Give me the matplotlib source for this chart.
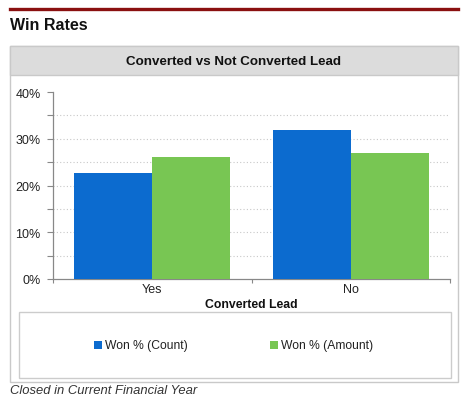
import matplotlib
matplotlib.use("Agg")
import matplotlib.pyplot as plt
from matplotlib.patches import Rectangle
from matplotlib.lines import Line2D
from matplotlib.ticker import FixedLocator, FuncFormatter
import numpy as np

plt.rcParams['font.family'] = ['Liberation Sans', 'DejaVu Sans']

categories = ["Yes", "No"]
won_count = [22.6, 31.8]
won_amount = [26.2, 27.0]
series_names = ["Won % (Count)", "Won % (Amount)"]
colors = ["#0c6bcf", "#78c653"]
major_yticks = [0, 10, 20, 30, 40]
minor_yticks = [5, 15, 25, 35]

W, H = 468, 402
fig = plt.figure(figsize=(W / 100, H / 100), dpi=100)

def fx(x):
    return x / W

def fy(y):
    return 1 - y / H

# Top red rule
fig.add_artist(Line2D([fx(10), fx(458)], [fy(10), fy(10)], color="#8a1010", lw=2.4))
fig.text(fx(10), fy(25), "Win Rates", fontsize=11.5, fontweight="bold", ha="left", va="center", color="#111111")

# Panel
fig.add_artist(Rectangle((fx(10), fy(383)), fx(448), (383 - 47) / H, transform=fig.transFigure,
                         facecolor="white", edgecolor="#c9c9c9", lw=1.0, zorder=-2))
fig.add_artist(Rectangle((fx(10), fy(76)), fx(448), (76 - 47) / H, transform=fig.transFigure,
                         facecolor="#dcdcdc", edgecolor="#c9c9c9", lw=1.0, zorder=-1))
fig.text(fx(234), fy(62), "Converted vs Not Converted Lead", fontsize=9.6, fontweight="bold",
         ha="center", va="center", color="#111111")

# Axes
ax = fig.add_axes([fx(53), fy(280), (450 - 53) / W, (280 - 93) / H])
ax.set_zorder(2)
ax.patch.set_alpha(0)
x = np.arange(len(categories))
bw = 0.392
ax.bar(x - bw / 2, won_count, width=bw, color=colors[0], zorder=3)
ax.bar(x + bw / 2, won_amount, width=bw, color=colors[1], zorder=3)
ax.set_xlim(-0.5, len(categories) - 0.5)
ax.set_ylim(0, 40)

ax.yaxis.set_major_locator(FixedLocator(major_yticks))
ax.yaxis.set_minor_locator(FixedLocator(minor_yticks))
ax.yaxis.set_major_formatter(FuncFormatter(lambda v, p: f"{v:.0f}%"))
ax.tick_params(axis="y", which="both", direction="out", length=4, width=0.8, color="#888888",
               labelsize=9, pad=5, labelcolor="#222222")

# x ticks: marks at category boundaries, labels at centers
ax.xaxis.set_major_locator(FixedLocator(list(np.arange(len(categories) + 1) - 0.5)))
ax.xaxis.set_major_formatter(FuncFormatter(lambda v, p: ""))
ax.xaxis.set_minor_locator(FixedLocator(list(x)))
ax.set_xticklabels(categories, minor=True)
ax.tick_params(axis="x", which="major", direction="out", length=3, width=0.8, color="#888888")
ax.tick_params(axis="x", which="minor", length=0, labelsize=9, pad=3, labelcolor="#222222")

for s in ["top", "right"]:
    ax.spines[s].set_visible(False)
for s in ["left", "bottom"]:
    ax.spines[s].set_color("#888888")
    ax.spines[s].set_linewidth(0.9)

# dotted gridlines at 5..35
for v in sorted(major_yticks[1:-1] + minor_yticks):
    ax.axhline(v, color="#c8c8c8", lw=0.8, linestyle=(0, (1, 2)), zorder=1)

fig.text(fx(251), fy(305), "Converted Lead", fontsize=8.8, fontweight="bold", ha="center",
         va="center", color="#111111")

# Legend box
fig.add_artist(Rectangle((fx(19), fy(379)), fx(432), (379 - 313) / H, transform=fig.transFigure,
                         facecolor="white", edgecolor="#cccccc", lw=1.0))
leg_x = [94, 270]
for lx, name, c in zip(leg_x, series_names, colors):
    fig.add_artist(Rectangle((fx(lx), fy(350)), fx(8), 8 / H, transform=fig.transFigure,
                             facecolor=c, edgecolor="none"))
    fig.text(fx(lx + 11), fy(346), name, fontsize=8.7, ha="left", va="center", color="#222222")

fig.text(fx(10), fy(391), "Closed in Current Financial Year", fontsize=9.4, style="italic",
         ha="left", va="center", color="#333333")

fig.savefig("out.png", dpi=100)
